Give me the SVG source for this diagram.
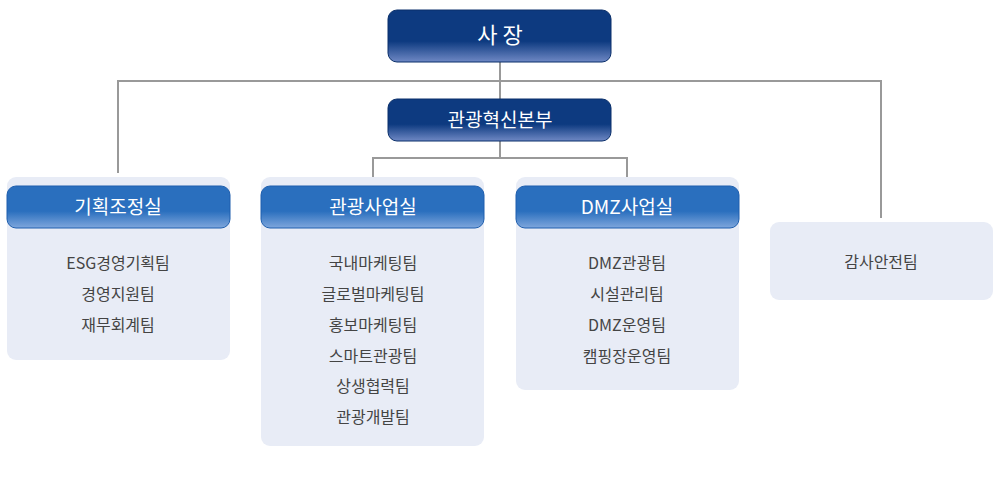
<svg xmlns="http://www.w3.org/2000/svg" width="1000" height="480" viewBox="0 0 1000 480">
<defs>
<linearGradient id="gd" x1="0" y1="0" x2="0" y2="1"><stop offset="0" stop-color="#0d3a80"/><stop offset="0.6" stop-color="#0d3a80"/><stop offset="1" stop-color="#6f88c4"/></linearGradient>
<linearGradient id="gb" x1="0" y1="0" x2="0" y2="1"><stop offset="0" stop-color="#2a6fbe"/><stop offset="0.6" stop-color="#2a6fbe"/><stop offset="1" stop-color="#7ea6dc"/></linearGradient>
</defs>
<style>
.pn{fill:#e8ecf6}
.hd{fill:url(#gb);stroke:#1f5fae;stroke-width:1}
.tp{fill:url(#gd);stroke:#0a2f6a;stroke-width:1}
.ht{font-family:"Noto Sans CJK KR","Noto Sans",sans-serif;font-size:19px;fill:#fff;text-anchor:middle}
.bt{font-family:"Noto Sans CJK KR","Noto Sans",sans-serif;font-size:16px;fill:#444;text-anchor:middle}
.ln{fill:none;stroke:#999;stroke-width:2}
</style>
<g id="connectors">
<path class="ln" d="M500 62V99M118 173V81H881V218M500 141V158M373 177V158H627V177"/>
</g>
<g id="ceo"><rect class="tp" x="388" y="10" width="223" height="52" rx="9"/><text class="ht" x="500" y="43" font-size="22" style="font-size:22px">사 장</text></g>
<g id="hq"><rect class="tp" x="388" y="99" width="223" height="42" rx="9"/><text class="ht" x="500" y="127">관광혁신본부</text></g>
<g id="n1"><rect class="pn" x="7" y="177" width="223" height="183" rx="9"/><rect class="hd" x="7" y="186" width="223" height="42" rx="9"/><text class="ht" x="118" y="214">기획조정실</text>
<text class="bt" x="118" y="269">ESG경영기획팀</text><text class="bt" x="118" y="300">경영지원팀</text><text class="bt" x="118" y="331">재무회계팀</text></g>
<g id="n2"><rect class="pn" x="261" y="177" width="223" height="269" rx="9"/><rect class="hd" x="261" y="186" width="223" height="42" rx="9"/><text class="ht" x="373" y="214">관광사업실</text>
<text class="bt" x="373" y="269">국내마케팅팀</text><text class="bt" x="373" y="300">글로벌마케팅팀</text><text class="bt" x="373" y="331">홍보마케팅팀</text><text class="bt" x="373" y="362">스마트관광팀</text><text class="bt" x="373" y="392">상생협력팀</text><text class="bt" x="373" y="423">관광개발팀</text></g>
<g id="n3"><rect class="pn" x="516" y="177" width="223" height="213" rx="9"/><rect class="hd" x="516" y="186" width="223" height="42" rx="9"/><text class="ht" x="627" y="214">DMZ사업실</text>
<text class="bt" x="627" y="269">DMZ관광팀</text><text class="bt" x="627" y="300">시설관리팀</text><text class="bt" x="627" y="331">DMZ운영팀</text><text class="bt" x="627" y="362">캠핑장운영팀</text></g>
<g id="n4"><rect class="pn" x="770" y="222" width="223" height="78" rx="9"/><text class="bt" x="881" y="268">감사안전팀</text></g>
</svg>
